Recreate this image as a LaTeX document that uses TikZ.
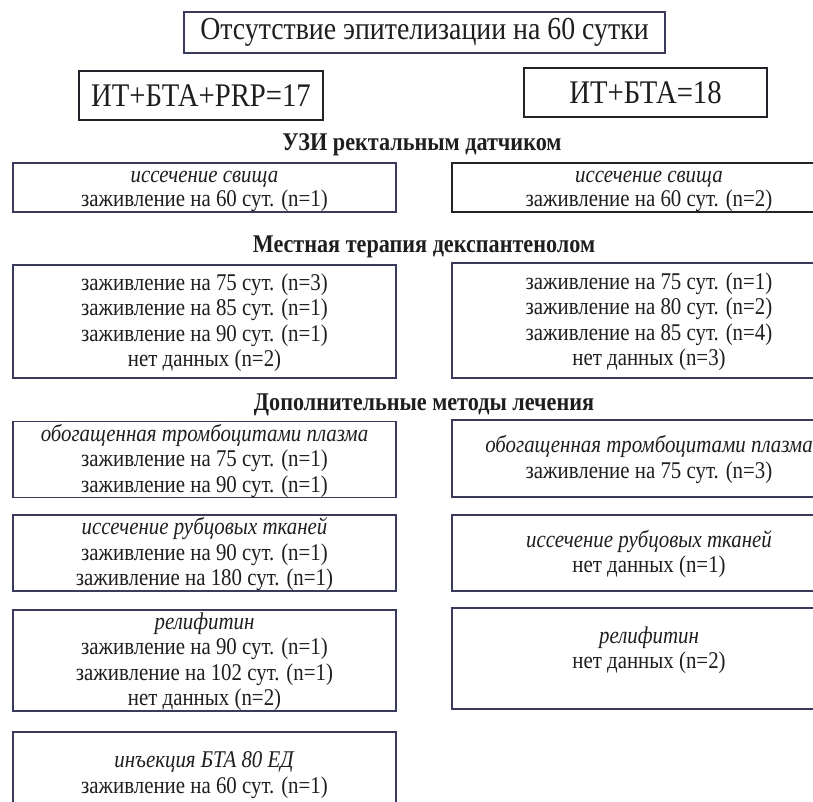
\documentclass[tikz,border=0pt]{standalone}
\usepackage{fontspec}
\setmainfont{Liberation Serif}[FakeStretch=0.87]
\definecolor{frame}{RGB}{58,58,92}
\definecolor{framek}{RGB}{34,34,40}
\definecolor{ink}{RGB}{30,30,30}
% fixed top and bottom of the text block, so that the lines sit as in the original
\newcommand\boxtext[2][5.5pt]{\rule{0pt}{19.5pt}#2\rule[-#1]{0pt}{#1}}

\begin{document}
\begin{tikzpicture}[x=1pt,y=-1pt,
	box/.style={draw=frame,line width=1.8pt,inner sep=0pt,align=center,text=ink,
		font=\fontsize{24}{25.5}\selectfont},
	colbox/.style={box,minimum width=383pt},
	hdr/.style={text=ink,font=\fontsize{25.5}{28}\selectfont\bfseries}]
			\useasboundingbox (0,0) rectangle (813,801);
			
			% top
			\node[box,minimum width=481pt,minimum height=41pt,font=\fontsize{32}{34}\selectfont] (title) at (424.5,32.5) {Отсутствие эпителизации на 60 сутки};
			\node[box,draw=framek,minimum width=244pt,minimum height=49pt,font=\fontsize{33}{35}\selectfont] (grpA) at (201,95.5) {ИТ+БТА+PRP=17};
			\node[box,draw=framek,minimum width=243pt,minimum height=49pt,font=\fontsize{33}{35}\selectfont] (grpB) at (645.5,92.5) {ИТ+БТА=18};
			
			% УЗИ
			\node[hdr] (hdrUzi) at (422,145) {УЗИ ректальным датчиком};
			\node[colbox,minimum height=49pt,font=\fontsize{24}{23.5}\selectfont] (uziA) at (204.5,187.5) {\boxtext{\textit{иссечение свища}\\заживление на 60 сут. (n=1)}};
			\node[colbox,draw=framek,minimum width=394pt,minimum height=49pt,font=\fontsize{24}{23.5}\selectfont] (uziB) at (649,187.5) {\boxtext{\textit{иссечение свища}\\заживление на 60 сут. (n=2)}};
			
			% местная терапия
			\node[hdr] (hdrLoc) at (424,247) {Местная терапия декспантенолом};
			\node[colbox,minimum height=113pt] (locA) at (204.5,321.5) {\boxtext{заживление на 75 сут. (n=3)\\заживление на 85 сут. (n=1)\\заживление на 90 сут. (n=1)\\нет данных (n=2)}};
			\node[colbox,minimum width=394pt,minimum height=115pt] (locB) at (649,320.5) {\boxtext{заживление на 75 сут. (n=1)\\заживление на 80 сут. (n=2)\\заживление на 85 сут. (n=4)\\нет данных (n=3)}};
			
			% дополнительные методы
			\node[hdr] (hdrAdd) at (424,405) {Дополнительные методы лечения};
			\node[colbox,minimum height=75pt] (prpA) at (204.5,459.5) {\boxtext{\textit{обогащенная тромбоцитами плазма}\\заживление на 75 сут. (n=1)\\заживление на 90 сут. (n=1)}};
			\node[colbox,minimum width=394pt,minimum height=77pt] (prpB) at (649,458.5) {\boxtext{\textit{обогащенная тромбоцитами плазма}\\заживление на 75 сут. (n=3)}};
			\node[colbox,minimum height=76pt] (scarA) at (204.5,553) {\boxtext{\textit{иссечение рубцовых тканей}\\заживление на 90 сут. (n=1)\\заживление на 180 сут. (n=1)}};
			\node[colbox,minimum width=394pt,minimum height=76pt] (scarB) at (649,553) {\boxtext{\textit{иссечение рубцовых тканей}\\нет данных (n=1)}};
			\node[colbox,minimum height=101pt] (relA) at (204.5,660.5) {\boxtext{\textit{релифитин}\\заживление на 90 сут. (n=1)\\заживление на 102 сут. (n=1)\\нет данных (n=2)}};
			\node[colbox,minimum width=394pt,minimum height=101pt] (relB) at (649,658.5) {\boxtext[25pt]{\textit{релифитин}\\нет данных (n=2)}};
			\node[colbox,minimum height=83pt] (btaA) at (204.5,773.5) {\boxtext{\textit{инъекция БТА 80 ЕД}\\заживление на 60 сут. (n=1)}};
\end{tikzpicture}
\end{document}
